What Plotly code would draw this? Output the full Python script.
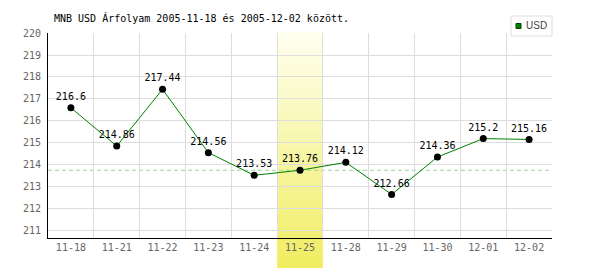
import plotly.graph_objects as go

# ---- data ----
dates = ["11-18", "11-21", "11-22", "11-23", "11-24", "11-25",
         "11-28", "11-29", "11-30", "12-01", "12-02"]
usd = [216.6, 214.86, 217.44, 214.56, 213.53, 213.76,
       214.12, 212.66, 214.36, 215.2, 215.16]
series_name = "USD"
highlight_date = "11-25"
reference_value = 213.76
y_ticks = list(range(211, 221))
title_text = "MNB USD Árfolyam 2005-11-18 és 2005-12-02 között."

FONT = "DejaVu Sans Mono"
W, H = 600, 270
L, R, T, B = 48, 48, 33, 32
PW, PH = W - L - R, H - T - B


def px_x(px):
    return (px - L) / PW


def px_y(py):
    return (H - B - py) / PH


fig = go.Figure()

fig.add_trace(go.Scatter(
    x=dates, y=usd, mode="lines+markers+text",
    name=series_name,
    line=dict(color="#008000", width=1),
    marker=dict(color="black", size=7),
    text=[f"{v:g}" for v in usd],
    textposition="top center",
    textfont=dict(family=FONT, size=10, color="black"),
    cliponaxis=False,
    showlegend=False,
))

shapes = []
# highlighted day band with vertical gradient
hi = dates.index(highlight_date)
top_c = (255, 255, 240)
bot_c = (240, 237, 96)
n = 40
y_top = 1.0
y_bot = px_y(268)
for i in range(n):
    t = (i + 0.5) / n
    c = tuple(round(top_c[k] + (bot_c[k] - top_c[k]) * t) for k in range(3))
    y0 = y_top + (y_bot - y_top) * i / n
    y1 = y_top + (y_bot - y_top) * (i + 1) / n
    shapes.append(dict(type="rect", xref="x", yref="paper",
                       x0=hi - 0.5, x1=hi + 0.5, y0=y1, y1=y0 + 0.002,
                       fillcolor=f"rgb{c}", line=dict(width=0), layer="below"))

# reference dashed line
shapes.append(dict(type="line", xref="paper", yref="y", x0=0, x1=1,
                   y0=reference_value, y1=reference_value,
                   line=dict(color="#99d699", width=1, dash="4px,3px"),
                   layer="below"))

# manual legend box
shapes.append(dict(type="rect", xref="paper", yref="paper",
                   x0=px_x(511), x1=px_x(552), y0=px_y(36), y1=px_y(16),
                   fillcolor="white", line=dict(color="#dddddd", width=1),
                   layer="above"))
shapes.append(dict(type="rect", xref="paper", yref="paper",
                   x0=px_x(516), x1=px_x(521), y0=px_y(28.5), y1=px_y(23.5),
                   fillcolor="#008000", line=dict(color="#004000", width=1),
                   layer="above"))

annotations = [
    dict(text=title_text, xref="paper", yref="paper", x=px_x(52), y=px_y(18),
         xanchor="left", yanchor="middle", showarrow=False,
         font=dict(family=FONT, size=10, color="black")),
    dict(text=series_name, xref="paper", yref="paper", x=px_x(524), y=px_y(26),
         xanchor="left", yanchor="middle", showarrow=False,
         font=dict(family="Liberation Sans", size=10, color="#444444")),
]

fig.update_layout(
    width=W, height=H,
    margin=dict(l=L, r=R, t=T, b=B, pad=0),
    paper_bgcolor="white", plot_bgcolor="white",
    shapes=shapes, annotations=annotations,
    showlegend=False,
    xaxis=dict(type="category", range=[-0.5, len(dates) - 0.5],
               tickson="boundaries", showgrid=True, gridcolor="#dddddd",
               gridwidth=1, showline=True, linecolor="black", linewidth=1,
               ticks="", zeroline=False, fixedrange=True,
               tickfont=dict(family=FONT, size=10, color="#666666")),
    yaxis=dict(range=[210.68, 220], tickvals=y_ticks,
               showgrid=True, gridcolor="#dddddd", gridwidth=1,
               showline=True, linecolor="black", linewidth=1,
               ticks="", zeroline=False, fixedrange=True, ticklabelstandoff=4,
               tickfont=dict(family=FONT, size=10, color="#666666")),
)

fig.write_html("out.html", config=dict(displayModeBar=False))
